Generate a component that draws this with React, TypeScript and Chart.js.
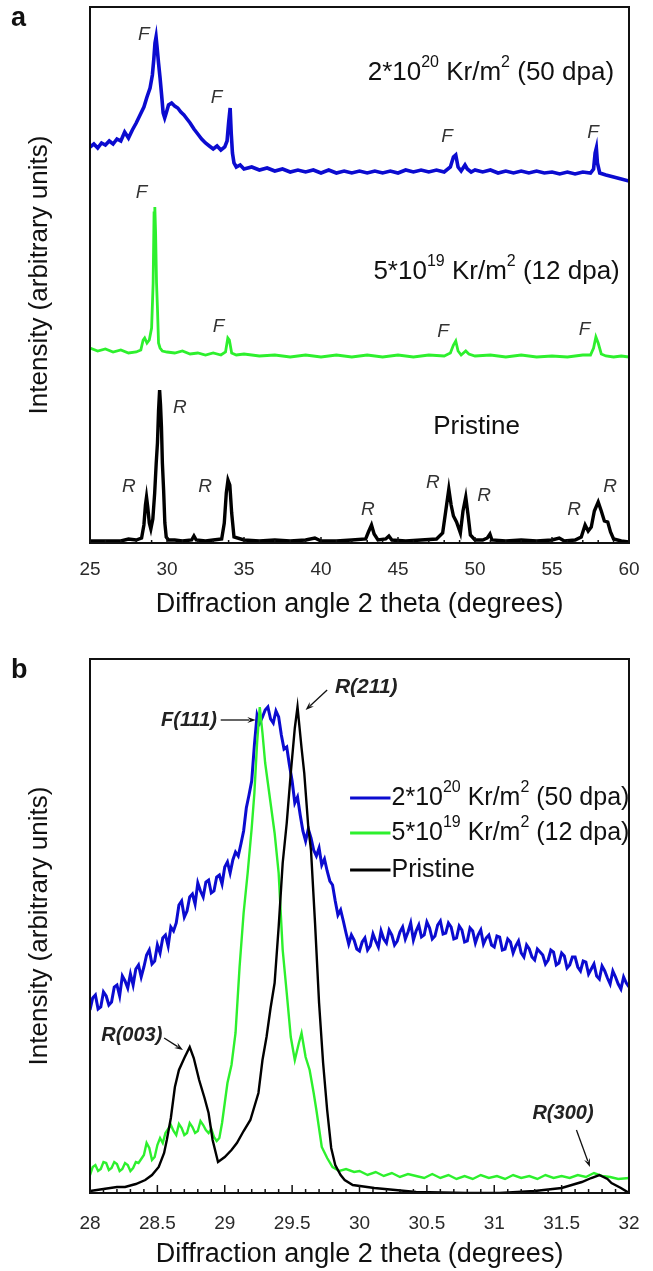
import React, { useEffect, useRef } from "react";
import { Chart, registerables } from "chart.js";

Chart.register(...registerables);

const FONT = "'Liberation Sans', Arial, Helvetica, sans-serif";

// ---------- Panel a : 2θ 25–60°, curves stacked (arbitrary units) ----------
const A_X_MIN = 25;
const A_X_MAX = 60;
const A_Y_MAX = 536;

// 2*10^20 Kr/m^2 (50 dpa)
const A_HIGH: [number, number][] = [
  [25.0, 396], [25.25, 399], [25.5, 395], [25.75, 400], [26.0, 398], [26.25, 402],
  [26.5, 399], [26.75, 404], [27.0, 402], [27.25, 411], [27.5, 405], [27.75, 413],
  [28.0, 420], [28.25, 428], [28.5, 436], [28.7, 446], [28.9, 455], [29.05, 468],
  [29.15, 485], [29.22, 500], [29.29, 506], [29.36, 495], [29.45, 480], [29.55, 465],
  [29.65, 448], [29.75, 430], [29.85, 425], [29.95, 430], [30.1, 438], [30.3, 440],
  [30.5, 437], [30.7, 435], [30.9, 431], [31.1, 428], [31.3, 424], [31.5, 420],
  [31.75, 414], [32.0, 409], [32.25, 404], [32.5, 400], [32.75, 397], [33.0, 394],
  [33.25, 397], [33.5, 393], [33.75, 396], [33.9, 402], [34.0, 420], [34.1, 435],
  [34.17, 410], [34.25, 390], [34.35, 380], [34.5, 376], [34.75, 378], [35.0, 374],
  [35.5, 376], [36.0, 373], [36.5, 375], [37.0, 372], [37.5, 374], [38.0, 371],
  [38.5, 373], [39.0, 371], [39.5, 373], [40.0, 370], [40.5, 373], [41.0, 370],
  [41.5, 372], [42.0, 370], [42.5, 372], [43.0, 370], [43.5, 372], [44.0, 370],
  [44.5, 372], [45.0, 370], [45.5, 373], [46.0, 371], [46.5, 373], [47.0, 371],
  [47.5, 373], [48.0, 371], [48.4, 376], [48.6, 386], [48.75, 388], [48.9, 376],
  [49.1, 372], [49.35, 378], [49.5, 374], [49.75, 371], [50.0, 373], [50.5, 371],
  [51.0, 373], [51.5, 370], [52.0, 372], [52.5, 370], [53.0, 372], [53.5, 370],
  [54.0, 372], [54.5, 370], [55.0, 371], [55.5, 369], [56.0, 371], [56.5, 369],
  [57.0, 371], [57.5, 370], [57.7, 374], [57.8, 390], [57.88, 395], [57.95, 380],
  [58.1, 370], [58.5, 368], [59.0, 366], [59.5, 364], [60.0, 362],
];

// 5*10^19 Kr/m^2 (12 dpa)
const A_MID: [number, number][] = [
  [25.0, 195], [25.5, 192], [26.0, 194], [26.5, 191], [27.0, 193], [27.5, 190],
  [28.0, 191], [28.3, 193], [28.45, 203], [28.55, 205], [28.7, 200], [28.85, 203],
  [29.0, 215], [29.1, 260], [29.16, 330], [29.21, 336], [29.26, 310], [29.32, 260],
  [29.38, 235], [29.45, 200], [29.55, 195], [29.7, 192], [30.0, 191], [30.5, 190],
  [31.0, 192], [31.5, 189], [32.0, 190], [32.5, 188], [33.0, 190], [33.5, 188],
  [33.8, 191], [33.95, 205], [34.05, 203], [34.2, 190], [34.5, 188], [35.0, 189],
  [36.0, 187], [37.0, 188], [38.0, 186], [39.0, 188], [40.0, 186], [41.0, 188],
  [42.0, 186], [43.0, 188], [44.0, 186], [45.0, 188], [46.0, 186], [47.0, 188],
  [48.0, 187], [48.4, 190], [48.6, 198], [48.75, 202], [48.9, 192], [49.1, 188],
  [49.4, 192], [49.6, 189], [50.0, 187], [51.0, 188], [52.0, 186], [53.0, 188],
  [54.0, 186], [55.0, 187], [56.0, 186], [57.0, 188], [57.5, 188], [57.7, 195],
  [57.85, 206], [58.0, 200], [58.2, 189], [58.5, 187], [59.0, 186], [59.5, 187],
  [60.0, 186],
];

// Pristine
const A_PRISTINE: [number, number][] = [
  [25.0, 2], [26.0, 2], [27.0, 2], [27.5, 4], [28.0, 3], [28.35, 5], [28.5, 18],
  [28.6, 38], [28.67, 46], [28.75, 36], [28.85, 20], [28.95, 14], [29.08, 24],
  [29.2, 50], [29.3, 80], [29.38, 100], [29.45, 132], [29.52, 153], [29.58, 138],
  [29.64, 116], [29.7, 80], [29.78, 53], [29.86, 20], [29.95, 6], [30.1, 3],
  [30.5, 3], [31.0, 2], [31.6, 3], [31.75, 7], [31.9, 3], [32.5, 2], [33.0, 3],
  [33.55, 4], [33.72, 20], [33.85, 50], [33.96, 63], [34.08, 58], [34.2, 30],
  [34.35, 6], [35.0, 3], [36.0, 2], [37.0, 3], [38.0, 2], [39.0, 3], [39.6, 5],
  [40.0, 2], [41.0, 2], [42.0, 3], [42.9, 4], [43.08, 11], [43.28, 18], [43.45, 9],
  [43.7, 3], [44.2, 4], [44.41, 7], [44.6, 3], [45.5, 2], [46.5, 3], [47.5, 4],
  [47.9, 10], [48.1, 32], [48.3, 54], [48.45, 38], [48.6, 27], [48.8, 21],
  [49.05, 10], [49.22, 32], [49.4, 46], [49.55, 28], [49.7, 8], [50.0, 3],
  [50.5, 3], [50.8, 5], [50.97, 9], [51.1, 3], [52.0, 2], [53.0, 3], [54.0, 2],
  [55.0, 3], [55.47, 5], [55.8, 2], [56.5, 3], [56.9, 6], [57.15, 18], [57.35, 12],
  [57.55, 16], [57.75, 32], [58.0, 41], [58.2, 32], [58.4, 22], [58.62, 21],
  [58.8, 11], [59.0, 4], [59.5, 2], [60.0, 1],
];

// ---------- Panel b : zoom 2θ 28–32° ----------
const B_X_MIN = 28;
const B_X_MAX = 32;
const B_Y_MAX = 534;

const B_HIGH: [number, number][] = [
  [28.0, 183], [28.02, 195], [28.04, 198], [28.06, 184], [28.08, 186], [28.1, 201],
  [28.12, 197], [28.14, 188], [28.16, 191], [28.18, 206], [28.2, 208], [28.22, 197],
  [28.24, 217], [28.26, 212], [28.28, 205], [28.3, 219], [28.32, 208], [28.34, 224],
  [28.36, 228], [28.38, 216], [28.4, 226], [28.42, 238], [28.44, 243], [28.46, 229],
  [28.48, 232], [28.5, 248], [28.52, 240], [28.54, 255], [28.56, 258], [28.58, 247],
  [28.6, 266], [28.62, 262], [28.64, 270], [28.66, 288], [28.68, 292], [28.7, 276],
  [28.72, 282], [28.74, 296], [28.76, 299], [28.78, 289], [28.8, 310], [28.82, 302],
  [28.84, 296], [28.86, 311], [28.88, 313], [28.9, 300], [28.92, 302], [28.94, 316],
  [28.96, 318], [28.98, 309], [29.0, 326], [29.02, 331], [29.04, 320], [29.06, 333],
  [29.08, 341], [29.1, 337], [29.12, 349], [29.14, 362], [29.16, 385], [29.18, 398],
  [29.2, 412], [29.22, 448], [29.24, 478], [29.26, 470], [29.28, 476], [29.3, 483],
  [29.32, 486], [29.34, 474], [29.36, 470], [29.38, 482], [29.4, 476], [29.42, 458],
  [29.44, 444], [29.46, 446], [29.48, 428], [29.5, 412], [29.52, 390], [29.54, 396],
  [29.56, 378], [29.58, 362], [29.6, 352], [29.62, 364], [29.64, 355], [29.66, 343],
  [29.68, 337], [29.7, 345], [29.72, 328], [29.74, 334], [29.76, 322], [29.78, 312],
  [29.8, 308], [29.82, 292], [29.84, 278], [29.86, 283], [29.88, 272], [29.9, 260],
  [29.92, 249], [29.94, 258], [29.96, 253], [29.98, 244], [30.0, 242], [30.02, 251],
  [30.04, 255], [30.06, 243], [30.08, 247], [30.1, 259], [30.12, 252], [30.14, 246],
  [30.16, 262], [30.18, 254], [30.2, 250], [30.22, 263], [30.24, 258], [30.26, 248],
  [30.28, 252], [30.3, 261], [30.32, 266], [30.34, 254], [30.36, 261], [30.38, 270],
  [30.4, 253], [30.42, 262], [30.44, 268], [30.46, 256], [30.48, 258], [30.5, 271],
  [30.52, 265], [30.54, 254], [30.56, 257], [30.58, 268], [30.6, 272], [30.62, 259],
  [30.64, 260], [30.66, 270], [30.68, 266], [30.7, 254], [30.72, 255], [30.74, 267],
  [30.76, 263], [30.78, 251], [30.8, 252], [30.82, 265], [30.84, 262], [30.86, 250],
  [30.88, 258], [30.9, 263], [30.92, 249], [30.94, 255], [30.96, 258], [30.98, 248],
  [31.0, 246], [31.02, 257], [31.04, 256], [31.06, 243], [31.08, 244], [31.1, 254],
  [31.12, 251], [31.14, 240], [31.16, 247], [31.18, 252], [31.2, 240], [31.22, 236],
  [31.24, 248], [31.26, 244], [31.28, 236], [31.3, 233], [31.32, 244], [31.34, 241],
  [31.36, 238], [31.38, 229], [31.4, 233], [31.42, 243], [31.44, 241], [31.46, 228],
  [31.48, 230], [31.5, 240], [31.52, 237], [31.54, 225], [31.56, 228], [31.58, 236],
  [31.6, 236], [31.62, 226], [31.64, 222], [31.66, 232], [31.68, 231], [31.7, 219],
  [31.72, 224], [31.74, 229], [31.76, 217], [31.78, 214], [31.8, 227], [31.82, 222],
  [31.84, 215], [31.86, 209], [31.88, 222], [31.9, 216], [31.92, 209], [31.94, 204],
  [31.96, 216], [31.98, 210], [32.0, 206],
];

const B_MID: [number, number][] = [
  [28.0, 18], [28.02, 26], [28.04, 28], [28.06, 22], [28.08, 24], [28.1, 31],
  [28.12, 30], [28.14, 23], [28.16, 25], [28.18, 31], [28.2, 29], [28.22, 22],
  [28.24, 24], [28.26, 30], [28.28, 28], [28.3, 22], [28.32, 25], [28.34, 31],
  [28.36, 30], [28.38, 34], [28.4, 38], [28.42, 50], [28.44, 45], [28.46, 33],
  [28.48, 36], [28.5, 48], [28.52, 55], [28.54, 50], [28.56, 60], [28.58, 64],
  [28.6, 68], [28.62, 62], [28.64, 58], [28.66, 69], [28.68, 65], [28.7, 58],
  [28.72, 60], [28.74, 70], [28.76, 66], [28.78, 60], [28.8, 62], [28.82, 72],
  [28.84, 68], [28.86, 63], [28.88, 60], [28.9, 64], [28.92, 56], [28.94, 52],
  [28.96, 55], [28.98, 70], [29.0, 90], [29.02, 110], [29.05, 128], [29.08, 160],
  [29.11, 226], [29.14, 280], [29.17, 320], [29.2, 365], [29.22, 400], [29.24, 450],
  [29.26, 486], [29.28, 460], [29.3, 430], [29.32, 410], [29.34, 390], [29.37, 360],
  [29.4, 320], [29.43, 243], [29.46, 200], [29.49, 156], [29.52, 133], [29.55, 150],
  [29.57, 160], [29.6, 136], [29.63, 123], [29.66, 100], [29.68, 83], [29.72, 46],
  [29.76, 35], [29.8, 26], [29.85, 22], [29.9, 24], [29.96, 21], [30.0, 22],
  [30.06, 18], [30.12, 21], [30.18, 17], [30.24, 20], [30.3, 16], [30.36, 19],
  [30.42, 17], [30.48, 15], [30.54, 19], [30.6, 15], [30.66, 18], [30.72, 14],
  [30.78, 17], [30.84, 14], [30.9, 18], [30.96, 15], [31.02, 17], [31.08, 14],
  [31.14, 18], [31.2, 15], [31.26, 17], [31.32, 14], [31.38, 18], [31.44, 15],
  [31.5, 17], [31.56, 15], [31.62, 18], [31.68, 16], [31.74, 20], [31.8, 17],
  [31.86, 16], [31.92, 14], [32.0, 15],
];

const B_PRISTINE: [number, number][] = [
  [28.0, 2], [28.1, 4], [28.2, 6], [28.26, 6], [28.34, 9], [28.41, 13], [28.46, 18],
  [28.51, 26], [28.55, 40], [28.57, 53], [28.6, 75], [28.63, 106], [28.66, 123],
  [28.7, 135], [28.74, 146], [28.77, 135], [28.81, 113], [28.85, 95], [28.88, 80],
  [28.91, 53], [28.95, 31], [29.0, 36], [29.05, 43], [29.09, 50], [29.14, 62],
  [29.19, 73], [29.25, 100], [29.28, 133], [29.31, 156], [29.34, 185], [29.37, 210],
  [29.4, 266], [29.43, 330], [29.46, 370], [29.49, 420], [29.52, 465], [29.54, 486],
  [29.57, 445], [29.59, 420], [29.62, 366], [29.64, 343], [29.67, 270], [29.7, 190],
  [29.73, 130], [29.76, 83], [29.79, 45], [29.82, 28], [29.86, 18], [29.89, 13],
  [29.95, 8], [30.11, 5], [30.42, 1], [30.8, 0], [31.04, 0], [31.3, 2], [31.5, 5],
  [31.65, 11], [31.72, 15], [31.78, 18], [31.84, 14], [31.87, 10], [31.94, 5],
  [32.0, 0],
];

// ---------- Texts ----------
const SERIES_HIGH = "2*10^{20} Kr/m^{2} (50 dpa)";
const SERIES_MID = "5*10^{19} Kr/m^{2} (12 dpa)";
const SERIES_PRISTINE = "Pristine";
const X_TITLE = "Diffraction angle 2 theta (degrees)";
const Y_TITLE = "Intensity (arbitrary units)";

const COLOR_HIGH = "#0b0bd0";
const COLOR_MID = "#2df02d";
const COLOR_PRISTINE = "#000000";

// ---------- drawing helpers ----------
type Part = { t: string; sup: boolean };
function parseRich(s: string): Part[] {
  const parts: Part[] = [];
  const re = /\^\{([^}]*)\}/g;
  let last = 0;
  let m: RegExpExecArray | null;
  while ((m = re.exec(s))) {
    if (m.index > last) parts.push({ t: s.slice(last, m.index), sup: false });
    parts.push({ t: m[1], sup: true });
    last = re.lastIndex;
  }
  if (last < s.length) parts.push({ t: s.slice(last), sup: false });
  return parts;
}

function drawRich(
  ctx: CanvasRenderingContext2D,
  s: string,
  x: number,
  y: number,
  o: { size: number; align?: string; color?: string; weight?: string; style?: string }
) {
  const parts = parseRich(s);
  const supSize = Math.round(o.size * 0.62);
  const fontFor = (sup: boolean) =>
    `${o.style || "normal"} ${o.weight || "normal"} ${sup ? supSize : o.size}px ${FONT}`;
  let w = 0;
  for (const p of parts) {
    ctx.font = fontFor(p.sup);
    w += ctx.measureText(p.t).width;
  }
  let cx = o.align === "left" ? x : o.align === "right" ? x - w : x - w / 2;
  ctx.textBaseline = "middle";
  ctx.textAlign = "left";
  ctx.fillStyle = o.color || "#111";
  for (const p of parts) {
    ctx.font = fontFor(p.sup);
    ctx.fillText(p.t, cx, p.sup ? y - o.size * 0.4 : y);
    cx += ctx.measureText(p.t).width;
  }
}

function drawArrow(ctx: CanvasRenderingContext2D, x1: number, y1: number, x2: number, y2: number) {
  const ang = Math.atan2(y2 - y1, x2 - x1);
  const head = 9;
  ctx.strokeStyle = "#111";
  ctx.fillStyle = "#111";
  ctx.lineWidth = 1.3;
  ctx.beginPath();
  ctx.moveTo(x1, y1);
  ctx.lineTo(x2 - Math.cos(ang) * head * 0.7, y2 - Math.sin(ang) * head * 0.7);
  ctx.stroke();
  ctx.beginPath();
  ctx.moveTo(x2, y2);
  ctx.lineTo(x2 - head * Math.cos(ang - 0.35), y2 - head * Math.sin(ang - 0.35));
  ctx.lineTo(x2 - head * 0.6 * Math.cos(ang), y2 - head * 0.6 * Math.sin(ang));
  ctx.lineTo(x2 - head * Math.cos(ang + 0.35), y2 - head * Math.sin(ang + 0.35));
  ctx.closePath();
  ctx.fill();
}

const annotPlugin = {
  id: "annot",
  afterDatasetsDraw(chart: any, _args: any, opts: any) {
    const { ctx, chartArea: ca, scales } = chart;
    const xs = scales.x;
    const ys = scales.y;
    ctx.save();
    // frame
    ctx.strokeStyle = "#111";
    ctx.lineWidth = 2;
    ctx.strokeRect(ca.left, ca.top, ca.right - ca.left, ca.bottom - ca.top);
    // inward ticks on the x axis
    const tk = opts.ticks;
    if (tk) {
      const n = Math.round((xs.max - xs.min) / tk.minor);
      ctx.lineWidth = 1.5;
      for (let i = 0; i <= n; i++) {
        const v = xs.min + i * tk.minor;
        const r = v / tk.major;
        const major = Math.abs(r - Math.round(r)) < 1e-6;
        const px = xs.getPixelForValue(v);
        ctx.beginPath();
        ctx.moveTo(px, ca.bottom);
        ctx.lineTo(px, ca.bottom - (major ? tk.majorLen : tk.minorLen));
        ctx.stroke();
      }
    }
    // text labels
    for (const l of opts.labels || []) {
      drawRich(ctx, l.text, xs.getPixelForValue(l.x), ys.getPixelForValue(l.y), l);
    }
    // arrows
    for (const a of opts.arrows || []) {
      drawArrow(
        ctx,
        xs.getPixelForValue(a.x1),
        ys.getPixelForValue(a.y1),
        xs.getPixelForValue(a.x2),
        ys.getPixelForValue(a.y2)
      );
    }
    // legend
    for (const e of opts.legend || []) {
      const py = ys.getPixelForValue(e.y);
      ctx.strokeStyle = e.color;
      ctx.lineWidth = 3;
      ctx.beginPath();
      ctx.moveTo(xs.getPixelForValue(e.x1), py);
      ctx.lineTo(xs.getPixelForValue(e.x2), py);
      ctx.stroke();
      drawRich(ctx, e.text, xs.getPixelForValue(e.x2) + 1, py, { size: e.size, align: "left", color: "#111" });
    }
    ctx.restore();
  },
};

function toXY(arr: [number, number][]) {
  return arr.map(([x, y]) => ({ x, y }));
}

function makeConfig(p: any): any {
  return {
    type: "line",
    data: {
      datasets: p.series.map((s: any) => ({
        label: s.label,
        data: toXY(s.data),
        borderColor: s.color,
        borderWidth: s.width,
        pointRadius: 0,
        tension: 0,
        fill: false,
        order: s.order,
      })),
    },
    options: {
      animation: false,
      responsive: false,
      devicePixelRatio: 1,
      layout: { padding: { left: 0, right: 24, top: p.top, bottom: 0 } },
      plugins: {
        legend: { display: false },
        tooltip: { enabled: false },
        annot: p.annot,
      },
      scales: {
        x: {
          type: "linear",
          min: p.xMin,
          max: p.xMax,
          afterFit: (s: any) => {
            s.height = p.xHeight;
            s.paddingLeft = 0;
            s.paddingRight = 0;
          },
          grid: { display: false, drawTicks: false },
          border: { display: false },
          ticks: {
            stepSize: p.xStep,
            autoSkip: false,
            maxRotation: 0,
            color: "#2a2a2a",
            padding: p.tickPad,
            font: { size: 19, family: FONT },
            callback: (v: any) => String(Number(Number(v).toFixed(2))),
          },
          title: {
            display: true,
            text: X_TITLE,
            color: "#111",
            font: { size: 27, family: FONT },
            padding: { top: 0, bottom: p.titlePad },
          },
        },
        y: {
          type: "linear",
          min: 0,
          max: p.yMax,
          afterFit: (s: any) => {
            s.width = 90;
          },
          grid: { display: false, drawTicks: false },
          border: { display: false },
          ticks: { display: false },
          title: {
            display: true,
            text: Y_TITLE,
            color: "#111",
            font: { size: 26, family: FONT },
            padding: { top: 24, bottom: 0 },
          },
        },
      },
    },
    plugins: [annotPlugin],
  };
}

const F_STYLE = { size: 19, style: "italic", color: "#333" };
const B_ANN = { size: 20, style: "italic", weight: "bold", color: "#222" };

const PANEL_A = {
  xMin: A_X_MIN,
  xMax: A_X_MAX,
  xStep: 5,
  yMax: A_Y_MAX,
  top: 7,
  xHeight: 97,
  tickPad: 15,
  titlePad: 19,
  series: [
    { label: SERIES_PRISTINE, data: A_PRISTINE, color: COLOR_PRISTINE, width: 3.4, order: 1 },
    { label: SERIES_MID, data: A_MID, color: COLOR_MID, width: 2.8, order: 2 },
    { label: SERIES_HIGH, data: A_HIGH, color: COLOR_HIGH, width: 3.6, order: 3 },
  ],
  annot: {
    ticks: { minor: 1, major: 5, minorLen: 3, majorLen: 6 },
    labels: [
      { text: SERIES_HIGH, x: 59.03, y: 470, size: 26, align: "right", color: "#111" },
      { text: SERIES_MID, x: 59.4, y: 271, size: 26, align: "right", color: "#111" },
      { text: SERIES_PRISTINE, x: 50.1, y: 116, size: 26, align: "center", color: "#111" },
      { text: "F", x: 28.49, y: 508, ...F_STYLE },
      { text: "F", x: 33.21, y: 445, ...F_STYLE },
      { text: "F", x: 48.18, y: 406, ...F_STYLE },
      { text: "F", x: 57.66, y: 410, ...F_STYLE },
      { text: "F", x: 28.35, y: 350, ...F_STYLE },
      { text: "F", x: 33.34, y: 216, ...F_STYLE },
      { text: "F", x: 47.92, y: 211, ...F_STYLE },
      { text: "F", x: 57.12, y: 213, ...F_STYLE },
      { text: "R", x: 30.84, y: 135, ...F_STYLE },
      { text: "R", x: 27.53, y: 56, ...F_STYLE },
      { text: "R", x: 32.47, y: 56, ...F_STYLE },
      { text: "R", x: 43.05, y: 33, ...F_STYLE },
      { text: "R", x: 47.27, y: 60, ...F_STYLE },
      { text: "R", x: 50.59, y: 47, ...F_STYLE },
      { text: "R", x: 56.43, y: 33, ...F_STYLE },
      { text: "R", x: 58.77, y: 56, ...F_STYLE },
    ],
  },
};

const PANEL_B = {
  xMin: B_X_MIN,
  xMax: B_X_MAX,
  xStep: 0.5,
  yMax: B_Y_MAX,
  top: 19,
  xHeight: 78,
  tickPad: 19,
  titlePad: 0,
  series: [
    { label: SERIES_PRISTINE, data: B_PRISTINE, color: COLOR_PRISTINE, width: 2.4, order: 1 },
    { label: SERIES_MID, data: B_MID, color: COLOR_MID, width: 2.4, order: 2 },
    { label: SERIES_HIGH, data: B_HIGH, color: COLOR_HIGH, width: 3, order: 3 },
  ],
  annot: {
    ticks: { minor: 0.1, major: 0.5, minorLen: 4, majorLen: 8 },
    labels: [
      { text: "F(111)", x: 28.735, y: 473, ...B_ANN },
      { text: "R(211)", x: 30.05, y: 506, ...B_ANN, size: 21 },
      { text: "R(003)", x: 28.31, y: 158, ...B_ANN },
      { text: "R(300)", x: 31.51, y: 80, ...B_ANN },
    ],
    arrows: [
      { x1: 28.97, y1: 473, x2: 29.23, y2: 473 },
      { x1: 29.76, y1: 503, x2: 29.6, y2: 483 },
      { x1: 28.55, y1: 155, x2: 28.69, y2: 143 },
      { x1: 31.61, y1: 63, x2: 31.71, y2: 26 },
    ],
    legend: [
      { text: SERIES_HIGH, x1: 29.93, x2: 30.23, y: 395, color: COLOR_HIGH, size: 25 },
      { text: SERIES_MID, x1: 29.93, x2: 30.23, y: 360, color: COLOR_MID, size: 25 },
      { text: SERIES_PRISTINE, x1: 29.93, x2: 30.23, y: 323, color: COLOR_PRISTINE, size: 25 },
    ],
  },
};

function Panel({ cfg, top, height, letter }: { cfg: any; top: number; height: number; letter: string }) {
  const ref = useRef<HTMLCanvasElement | null>(null);
  useEffect(() => {
    if (!ref.current) return;
    const chart = new Chart(ref.current, makeConfig(cfg));
    return () => chart.destroy();
  }, [cfg]);
  return (
    <div style={{ position: "absolute", left: 0, top, width: 653, height }}>
      <canvas ref={ref} width={653} height={height} style={{ width: 653, height, display: "block" }} />
      <div
        style={{
          position: "absolute",
          left: 11,
          top: letter === "a" ? 2 : 14,
          font: `bold 27px ${FONT}`,
          color: "#111",
        }}
      >
        {letter}
      </div>
    </div>
  );
}

export default function App() {
  return (
    <div style={{ position: "absolute", left: 0, top: 0, width: 653, height: 1271, background: "#fff" }}>
      <Panel cfg={PANEL_A} top={0} height={640} letter="a" />
      <Panel cfg={PANEL_B} top={640} height={631} letter="b" />
    </div>
  );
}
